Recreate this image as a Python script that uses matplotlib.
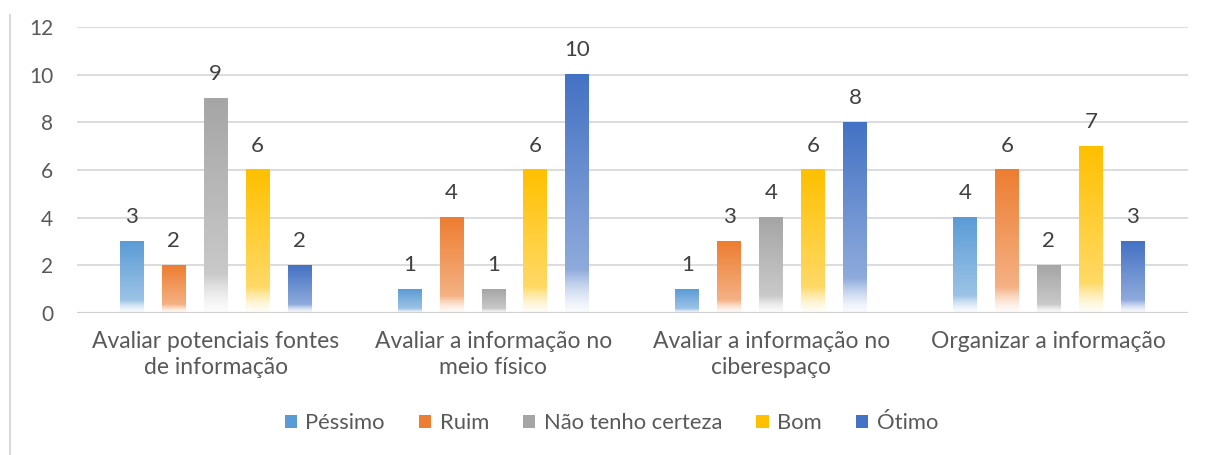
import matplotlib
matplotlib.use("Agg")
import matplotlib.pyplot as plt
import numpy as np
from matplotlib.colors import to_rgb
from matplotlib.patches import Rectangle
from matplotlib.lines import Line2D

categories = ["Avaliar potenciais fontes\nde informação",
              "Avaliar a informação no\nmeio físico",
              "Avaliar a informação no\nciberespaço",
              "Organizar a informação"]
series_names = ["Péssimo", "Ruim", "Não tenho certeza", "Bom", "Ótimo"]
pessimo = [3, 1, 1, 4]
ruim = [2, 4, 3, 6]
nao_certeza = [9, 1, 4, 2]
bom = [6, 6, 6, 7]
otimo = [2, 10, 8, 3]
series_values = [pessimo, ruim, nao_certeza, bom, otimo]
colors = ["#5B9BD5", "#ED7D31", "#A5A5A5", "#FFC000", "#4472C4"]
yticks = [0, 2, 4, 6, 8, 10, 12]

plt.rcParams['font.family'] = ['Lato', 'DejaVu Sans']
txt = "#595959"

fig = plt.figure(figsize=(12.06, 4.55), dpi=100)
ax = fig.add_axes([0.0638, 0.312, 0.921, 0.6286])

n = len(series_names)
step = 0.151
width = 0.086
x = np.arange(len(categories))

def grad_profile(t):
    # t: 0 bottom, 1 top -> intensity of color
    return np.where(t > 0.18, 0.6 + 0.4 * (t - 0.18) / 0.82,
                    0.03 + 0.57 * (t / 0.18) ** 1.5)

t = np.linspace(0, 1, 200)[:, None]
f = grad_profile(t)

for i, (name, vals, c) in enumerate(zip(series_names, series_values, colors)):
    rgb = np.array(to_rgb(c))
    img = np.ones((200, 1, 3))
    img[:, 0, :] = 1 - f * (1 - rgb)
    for j, v in enumerate(vals):
        xc = x[j] + (i - (n - 1) / 2) * step
        x0, x1 = xc - width / 2, xc + width / 2
        ax.imshow(img, extent=(x0, x1, 0, v), origin='lower', aspect='auto',
                  interpolation='bilinear', zorder=3)
        ax.text(xc, v + 0.6, str(v), ha='center', va='bottom', fontsize=16,
                color="#404040", zorder=4)

ax.set_xlim(-0.5, len(categories) - 0.5)
ax.set_ylim(0, 12)
ax.set_yticks(yticks)
ax.set_yticklabels([str(v) for v in yticks], fontsize=15, color=txt)
ax.set_xticks(x)
ax.set_xticklabels(categories, fontsize=16.5, color=txt, linespacing=1.3)
ax.tick_params(axis='both', length=0)
ax.tick_params(axis='y', pad=17)
ax.tick_params(axis='x', pad=13)
for s in ax.spines.values():
    s.set_visible(False)
for yv in yticks[1:]:
    ax.axhline(yv, color="#D9D9D9", lw=1.3, zorder=1)
ax.axhline(0, color="#D0D0D0", lw=1.6, zorder=5)

handles = [Rectangle((0, 0), 1, 1, facecolor=c, edgecolor='none') for c in colors]
fig.legend(handles, series_names, loc='center', bbox_to_anchor=(0.507, 0.07),
           ncol=5, frameon=False, fontsize=15.8, handlelength=0.55, handleheight=0.55,
           handletextpad=0.4, columnspacing=1.55, labelcolor=txt)

fig.add_artist(Line2D([0.0083, 0.0083], [0.0, 0.967], color="#D9D9D9", lw=1.5,
                      transform=fig.transFigure))

fig.savefig("out.png", dpi=100)
